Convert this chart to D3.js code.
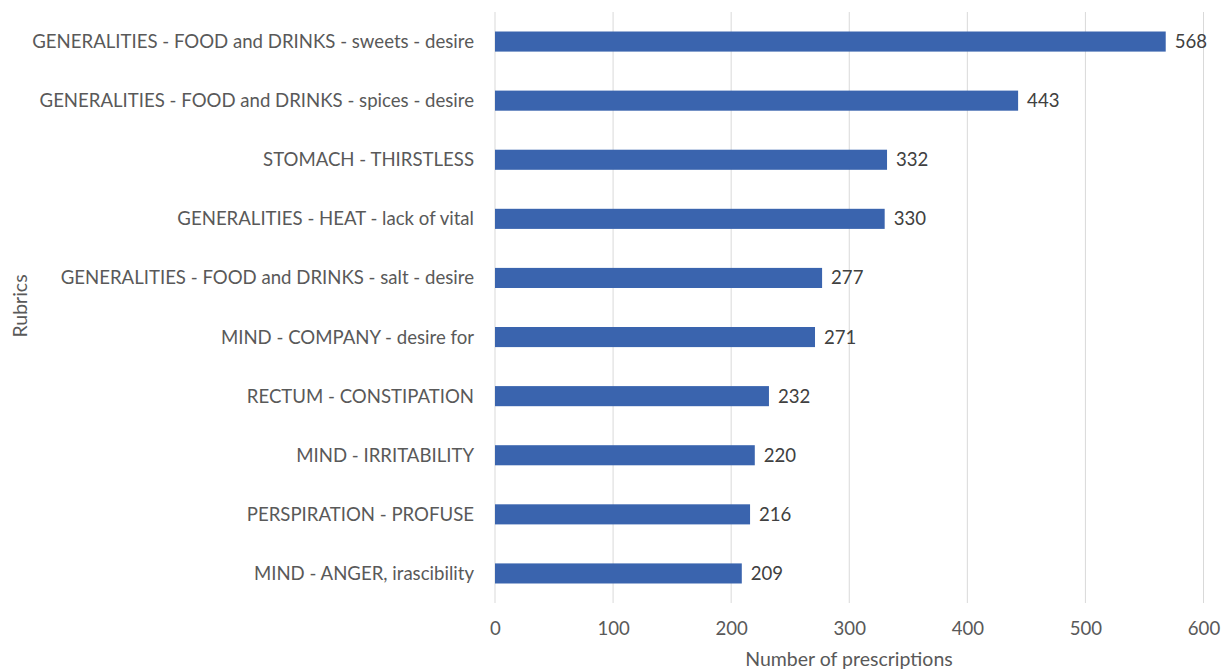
<!DOCTYPE html>
<html><head><meta charset="utf-8">
<script src="https://cdn.jsdelivr.net/npm/d3@7"></script>
<style>body{margin:0;background:#fff}svg{display:block}text{font-family:Lato,"Open Sans",sans-serif}</style>
</head><body>
<svg id="c" width="1222" height="672"></svg>
<script>
const categories = [
  "GENERALITIES - FOOD and DRINKS - sweets - desire",
  "GENERALITIES - FOOD and DRINKS - spices - desire",
  "STOMACH - THIRSTLESS",
  "GENERALITIES - HEAT - lack of vital",
  "GENERALITIES - FOOD and DRINKS - salt - desire",
  "MIND - COMPANY - desire for",
  "RECTUM - CONSTIPATION",
  "MIND - IRRITABILITY",
  "PERSPIRATION - PROFUSE",
  "MIND - ANGER, irascibility"
];
const values = [568, 443, 332, 330, 277, 271, 232, 220, 216, 209];
const xTicks = [0, 100, 200, 300, 400, 500, 600];
const xTitle = "Number of prescriptions";
const yTitle = "Rubrics";

const svg = d3.select("#c");
const L = 495, R = 1203.5, T = 12, B = 603;
const FS = 18.6;
const x = d3.scaleLinear().domain([0, 600]).range([L, R]);
const y = d3.scaleBand().domain(categories).range([T, B]).paddingInner(0.66).paddingOuter(0.33);

// gridlines
svg.append("g").selectAll("line").data(xTicks).join("line")
  .attr("x1", d => x(d)).attr("x2", d => x(d)).attr("y1", T).attr("y2", B)
  .attr("stroke", "#d9d9d9").attr("stroke-width", 1);

// bars
svg.append("g").selectAll("rect").data(values).join("rect")
  .attr("x", x(0)).attr("y", (d, i) => y(categories[i]))
  .attr("width", d => x(d) - x(0)).attr("height", y.bandwidth())
  .attr("fill", "#3a64ae");

// value labels
svg.append("g").selectAll("text").data(values).join("text")
  .attr("x", d => x(d) + 9).attr("y", (d, i) => y(categories[i]) + y.bandwidth() / 2)
  .attr("dy", "0.35em").attr("font-size", FS).attr("fill", "#404040").text(d => d);

// y axis category labels
svg.append("g").selectAll("text").data(categories).join("text")
  .attr("x", L - 21).attr("y", d => y(d) + y.bandwidth() / 2)
  .attr("dy", "0.35em").attr("text-anchor", "end").attr("font-size", FS)
  .attr("fill", "#595959").text(d => d);

// x axis tick labels
const xa = svg.append("g").attr("transform", `translate(0,${B})`)
  .call(d3.axisBottom(x).tickValues(xTicks).tickSize(0).tickPadding(19));
xa.select(".domain").remove();
xa.selectAll("text").attr("font-size", FS).attr("fill", "#595959").attr("font-family", "Lato,'Open Sans',sans-serif");

svg.append("text").attr("x", 849).attr("y", 666).attr("text-anchor", "middle")
  .attr("font-size", 19.5).attr("fill", "#595959").text(xTitle);

svg.append("text").attr("transform", "translate(27,306) rotate(-90)").attr("text-anchor", "middle")
  .attr("font-size", 19.5).attr("fill", "#595959").text(yTitle);
</script>
</body></html>
